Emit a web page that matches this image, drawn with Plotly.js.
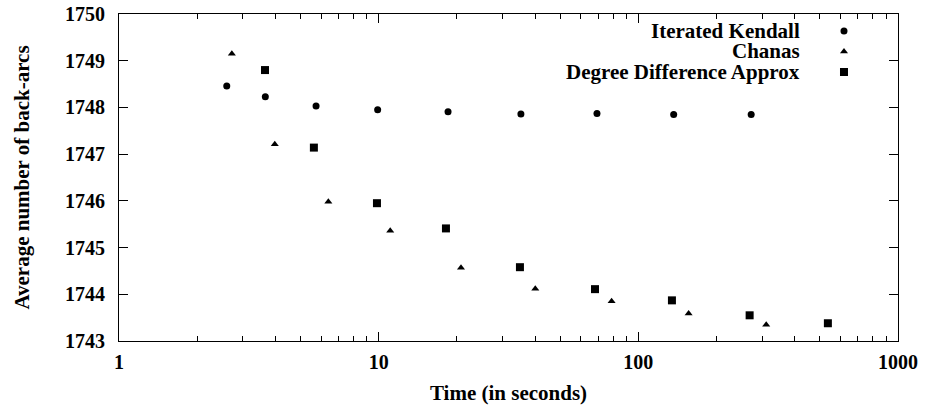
<!DOCTYPE html>
<html>
<head>
<meta charset="utf-8">
<script src="https://cdn.plot.ly/plotly-3.0.1.min.js"></script>
<style>html,body{margin:0;padding:0;background:#fff;}#chart{width:925px;height:409px;}</style>
</head>
<body>
<div id="chart"></div>
<script>
const seriesNames = ["Iterated Kendall", "Chanas", "Degree Difference Approx"];

const kendallTime = [2.60, 3.66, 5.74, 9.91, 18.5, 35.3, 69.3, 136.8, 272];
const kendallArcs = [1748.46, 1748.23, 1748.03, 1747.95, 1747.91, 1747.86, 1747.87, 1747.85, 1747.85];

const chanasTime = [2.72, 3.98, 6.40, 11.08, 20.75, 40.1, 78.9, 156.2, 310.8];
const chanasArcs = [1749.15, 1747.21, 1745.98, 1745.36, 1744.57, 1744.12, 1743.85, 1743.59, 1743.35];

const ddaTime = [3.65, 5.63, 9.85, 18.16, 35.0, 68.1, 134.7, 268.3, 537];
const ddaArcs = [1748.80, 1747.14, 1745.95, 1745.41, 1744.58, 1744.11, 1743.87, 1743.55, 1743.38];

const xTickVals = [1, 10, 100, 1000];
const xTickText = ["1", "10", "100", "1000"];
const yTickVals = [1743, 1744, 1745, 1746, 1747, 1748, 1749, 1750];

const FAMILY = "Liberation Serif, Times New Roman, serif";
const TICKFONT = {family: FAMILY, size: 20, color: "#000", weight: "bold"};
const TITLEFONT = {family: FAMILY, size: 21, color: "#000", weight: "bold"};

const traces = [
  {x: kendallTime, y: kendallArcs, name: " ", mode: "markers", type: "scatter",
   marker: {symbol: "circle", size: 7, color: "#000"}},
  {x: chanasTime, y: chanasArcs, name: " ", mode: "markers", type: "scatter",
   marker: {symbol: "triangle-up", size: 7, color: "#000"}},
  {x: ddaTime, y: ddaArcs, name: " ", mode: "markers", type: "scatter",
   marker: {symbol: "square", size: 8, color: "#000"}},
  // empty trace so the frame/tick overlay axes are drawn
  {x: [], y: [], xaxis: "x2", yaxis: "y2", type: "scatter", mode: "markers",
   showlegend: false, hoverinfo: "skip"}
];

const annotations = seriesNames.map((t, i) => ({
  text: t, xref: "paper", yref: "paper", x: 0.877, y: 0.948 - i * 0.062,
  xanchor: "right", yanchor: "middle", showarrow: false, font: TITLEFONT
}));

const layout = {
  width: 925, height: 409,
  margin: {l: 119, r: 27, t: 14, b: 68},
  paper_bgcolor: "#fff", plot_bgcolor: "#fff",
  font: TICKFONT,
  showlegend: true,
  legend: {x: 0.905, y: 0.995, xanchor: "left", yanchor: "top", bgcolor: "rgba(0,0,0,0)",
           font: {family: FAMILY, size: 13.5}, itemwidth: 30, tracegroupgap: 0},
  annotations: annotations,
  xaxis: {
    type: "log", range: [0, 3], tickvals: xTickVals, ticktext: xTickText,
    ticks: "outside", ticklen: 3, tickcolor: "rgba(0,0,0,0)",
    showline: false, showgrid: false, zeroline: false, tickfont: TICKFONT,
    title: {text: "Time (in seconds)", font: TITLEFONT, standoff: 13}
  },
  xaxis2: {
    type: "log", range: [0, 3], overlaying: "x", side: "bottom", anchor: "y2", tickvals: xTickVals,
    showticklabels: false, ticks: "inside", ticklen: 9, tickwidth: 1, tickcolor: "#000",
    showline: true, linecolor: "#000", linewidth: 1, mirror: "ticks",
    showgrid: false, zeroline: false,
    minor: {dtick: "D1", ticks: "inside", ticklen: 5, tickwidth: 1, tickcolor: "#000", showgrid: false}
  },
  yaxis: {
    range: [1743, 1750], tickvals: yTickVals,
    ticks: "outside", ticklen: 9, tickcolor: "rgba(0,0,0,0)",
    showline: false, showgrid: false, zeroline: false, tickfont: TICKFONT,
    title: {text: "Average number of back-arcs", font: TITLEFONT, standoff: 29}
  },
  yaxis2: {
    range: [1743, 1750], overlaying: "y", side: "left", anchor: "x2", tickvals: yTickVals,
    showticklabels: false, ticks: "inside", ticklen: 9, tickwidth: 1, tickcolor: "#000",
    showline: true, linecolor: "#000", linewidth: 1, mirror: "ticks",
    showgrid: false, zeroline: false
  }
};

Plotly.newPlot("chart", traces, layout, {staticPlot: true});
</script>
</body>
</html>
